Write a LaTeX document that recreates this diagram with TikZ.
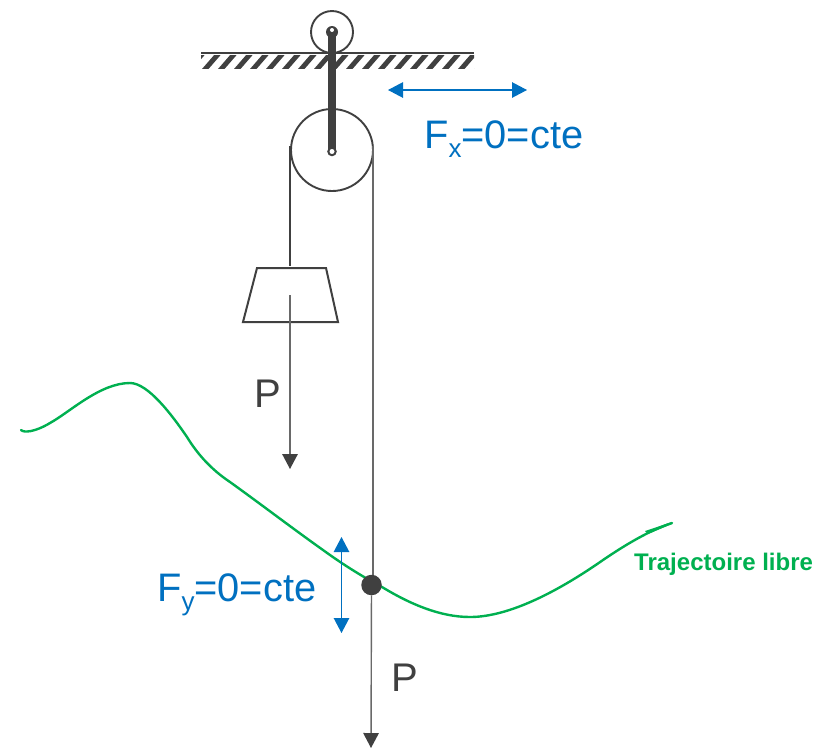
\documentclass[tikz,border=0pt]{standalone}
\usepackage{fontspec}
\setmainfont{Liberation Sans}
\usetikzlibrary{arrows.meta}
\definecolor{ink}{RGB}{64,64,64}
\definecolor{rope}{RGB}{105,105,105}
\definecolor{blu}{RGB}{0,112,192}
\definecolor{grn}{RGB}{0,176,80}
\newcommand{\lowsub}[1]{\raisebox{-9pt}{\fontsize{26}{26}\selectfont #1}}
\tikzset{
  wheel/.style={circle,draw=ink,line width=1.9pt,inner sep=0pt,fill=white},
  hole/.style={circle,fill=white,inner sep=0pt},
  ropeline/.style={draw=ink,line width=1.5pt},
  ropelow/.style={draw=rope,line width=1.6pt},
  force/.style={draw=rope,line width=1.4pt,-{Triangle[length=15pt,width=15.5pt,color=ink]}},
  hforce/.style={draw=blu,line width=1.2pt,{Triangle[length=15pt,width=15.5pt]}-{Triangle[length=15pt,width=15.5pt]}},
  bluetxt/.style={text=blu,font=\fontsize{39.8}{39.8}\selectfont,inner sep=0pt},
  weighttxt/.style={text=ink,font=\fontsize{40}{40}\selectfont,inner sep=0pt},
  traj/.style={draw=grn,line width=2.4pt,line join=round,line cap=round}
}
\begin{document}
\begin{tikzpicture}[x=1pt,y=-1pt]
\useasboundingbox (0,0) rectangle (834,748);
% ceiling
\begin{scope}
\clip (201,55) rectangle (474,68.5);
\foreach \i in {-1,...,17}{
  \fill[ink] ({202+16*\i},69) -- ({208.5+16*\i},69) -- ({221.5+16*\i},54) -- ({215+16*\i},54) -- cycle;
}
\end{scope}
\draw[ink,line width=1.8pt] (201,53) -- (474,53);
% pulleys
\node[wheel,minimum size=42pt,fill=none] (top) at (332,32) {};
\node[wheel,minimum size=82pt] (big) at (332,150) {};
\coordinate (ropeL) at (290,146);
\coordinate (ropeR) at (372.8,146);
\coordinate (loadtop) at (290,266);
\coordinate (ballup) at (372.8,585);
\coordinate (pend) at (371,748);
\draw[ink,line width=8pt] (top.center) -- (big.center);
\fill[ink] (top.center) circle (6pt);
\fill[ink] (big.center) ++(0,1.5) circle (4.8pt);
\node[hole,minimum size=4pt] (tophole) at (332,30) {};
\node[hole,minimum size=5pt] (bighole) at (332,151.5) {};
% ropes
\draw[ropeline] (ropeL) -- (loadtop);
\draw[ropelow] (ropeR) -- (ballup);
% load
\draw[ink,line width=2pt,fill=white,line join=miter] (257,268) coordinate (w1) -- (326,268) -- (338,322) -- (243,322) -- cycle;
\coordinate (wc) at (290,295);
\coordinate (wend) at (290,469);
\draw[force] (wc) -- (wend);
\node[weighttxt] (p1) at (267.5,394) {P};
% trajectory
\draw[traj] (21,430) .. controls (24,433) and (35,432) .. (50,423)
  .. controls (70,412) and (100,383) .. (130,383)
  .. controls (148,383) and (172,415) .. (187,437)
  .. controls (198,455) and (212,470) .. (230,482)
  .. controls (262,505) and (292,528) .. (323,550)
  .. controls (345,566) and (365,578) .. (382,587)
  .. controls (410,604) and (440,617) .. (470,617)
  .. controls (510,617) and (560,590) .. (603,560)
  .. controls (625,545) and (650,530) .. (672,523);
\fill[grn] (645,531) -- (672,522) -- (672,524) -- (648,534) -- cycle;
\node[text=grn,font=\fontsize{24}{24}\selectfont\bfseries,inner sep=0pt,anchor=base west] (tl) at (634,570) {Trajectoire libre};
% particle
\node[circle,fill=ink,minimum size=20.5pt,inner sep=0pt] (ball) at (371.5,585) {};
\draw[force] (ball) -- (pend);
\node[weighttxt] (p2) at (404.5,678) {P};
% blue
\coordinate (xa) at (388,90);
\coordinate (xb) at (527,90);
\draw[hforce] (xa) -- (xb);
\node[bluetxt,anchor=base west] (fx) at (424,148.5) {F\lowsub{x}=0=cte};
\coordinate (ya) at (341.5,537);
\coordinate (yb) at (341.5,633);
\draw[hforce] (ya) -- (yb);
\node[bluetxt,anchor=base west] (fy) at (157,601) {F\lowsub{y}=0=cte};
\end{tikzpicture}
\end{document}
